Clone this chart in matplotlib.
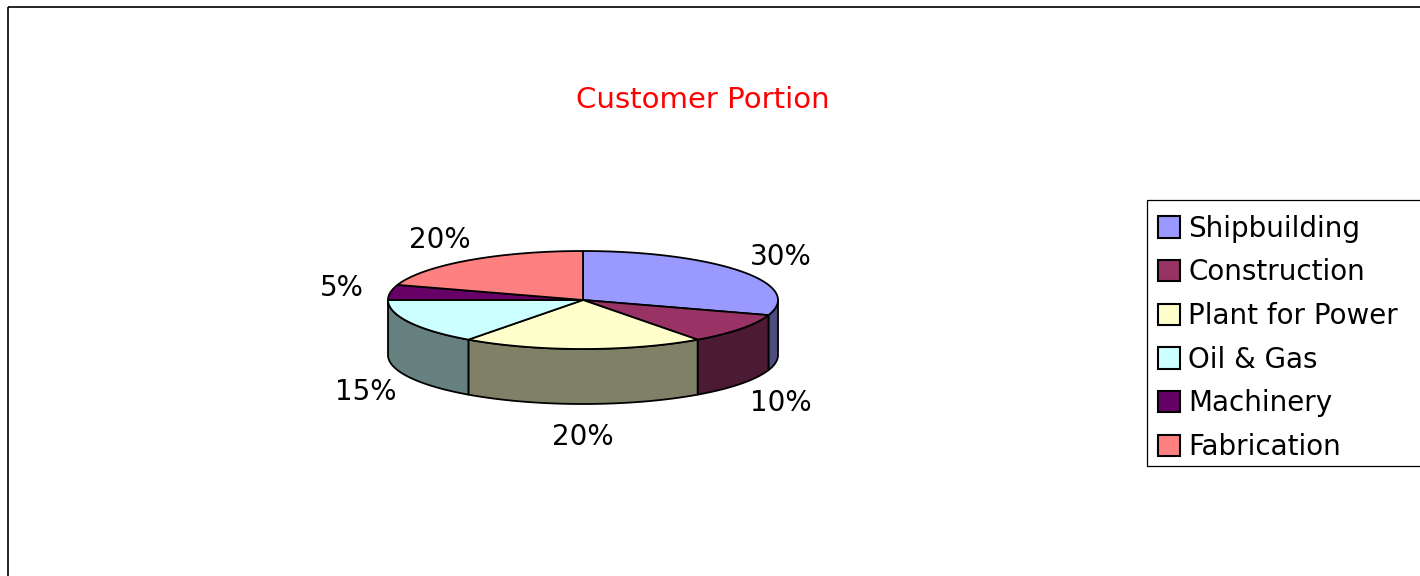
import numpy as np
import matplotlib.pyplot as plt
from matplotlib.patches import Polygon, Patch, Rectangle

# data
categories = ["Shipbuilding", "Construction", "Plant for Power", "Oil & Gas", "Machinery", "Fabrication"]
shares = [30, 10, 20, 15, 5, 20]
colors = ["#9999FF", "#993366", "#FFFFCC", "#CCFFFF", "#660066", "#FF8080"]
title = "Customer Portion"

# layout (pixel units, y downwards)
cx, cy = 583, 300
rx, ry = 195, 49
depth = 55
lab_rx = 244
lab_ry_back, lab_ry_front = 74, 82
FS = 20


def darker(c, f=0.5):
    c = c.lstrip("#")
    rgb = [int(c[i:i + 2], 16) / 255 for i in (0, 2, 4)]
    return tuple(v * f for v in rgb)


def arc(t0, t1, dy=0, n=80):
    t = np.radians(np.linspace(t0, t1, n))
    return np.column_stack([cx + rx * np.sin(t), cy - ry * np.cos(t) + dy])


fig = plt.figure(figsize=(14.2, 5.76), dpi=100)
ax = fig.add_axes([0, 0, 1, 1])
ax.set_xlim(0, 1420)
ax.set_ylim(576, 0)
ax.axis("off")

# outer chart border
ax.add_patch(Rectangle((8, 7), 1500, 700, fill=False, ec="black", lw=1.2))

total = sum(shares)
bounds = np.concatenate([[0], np.cumsum(shares)]) / total * 360

# side walls (front half only)
for i, c in enumerate(colors):
    a, b = max(bounds[i], 90), min(bounds[i + 1], 270)
    if a < b:
        pts = np.vstack([arc(a, b), arc(b, a, depth)])
        ax.add_patch(Polygon(pts, closed=True, fc=darker(c), ec="black", lw=1.3, joinstyle="round"))

# top faces
for i, c in enumerate(colors):
    pts = np.vstack([[cx, cy], arc(bounds[i], bounds[i + 1])])
    ax.add_patch(Polygon(pts, closed=True, fc=c, ec="black", lw=1.3, joinstyle="round"))

# percentage labels
for i, v in enumerate(shares):
    t = np.radians((bounds[i] + bounds[i + 1]) / 2)
    x = cx + lab_rx * np.sin(t)
    if np.cos(t) < 0:
        y = cy - lab_ry_front * np.cos(t) + depth
    else:
        y = cy - lab_ry_back * np.cos(t)
    ax.text(x, y, f"{v}%", ha="center", va="center", fontsize=FS, family="DejaVu Sans")

ax.text(703, 100, title, ha="center", va="center", fontsize=21, color="red", family="DejaVu Sans")

# legend box runs past the right edge of the picture
ax.add_patch(Rectangle((1147, 200), 400, 266, fill=False, ec="black", lw=0.9))
handles = [Patch(fc=c, ec="black", lw=1.5) for c in colors]
leg = ax.legend(handles, categories, loc="upper left", bbox_to_anchor=(1147 / 1420, 1 - 204 / 576),
                bbox_transform=fig.transFigure, fontsize=FS, frameon=False,
                handlelength=0.8, handleheight=0.8, handletextpad=0.3, labelspacing=0.565,
                borderpad=0.38, borderaxespad=0)
for t in leg.get_texts():
    t.set_family("DejaVu Sans")

fig.savefig("out.png", dpi=100)
